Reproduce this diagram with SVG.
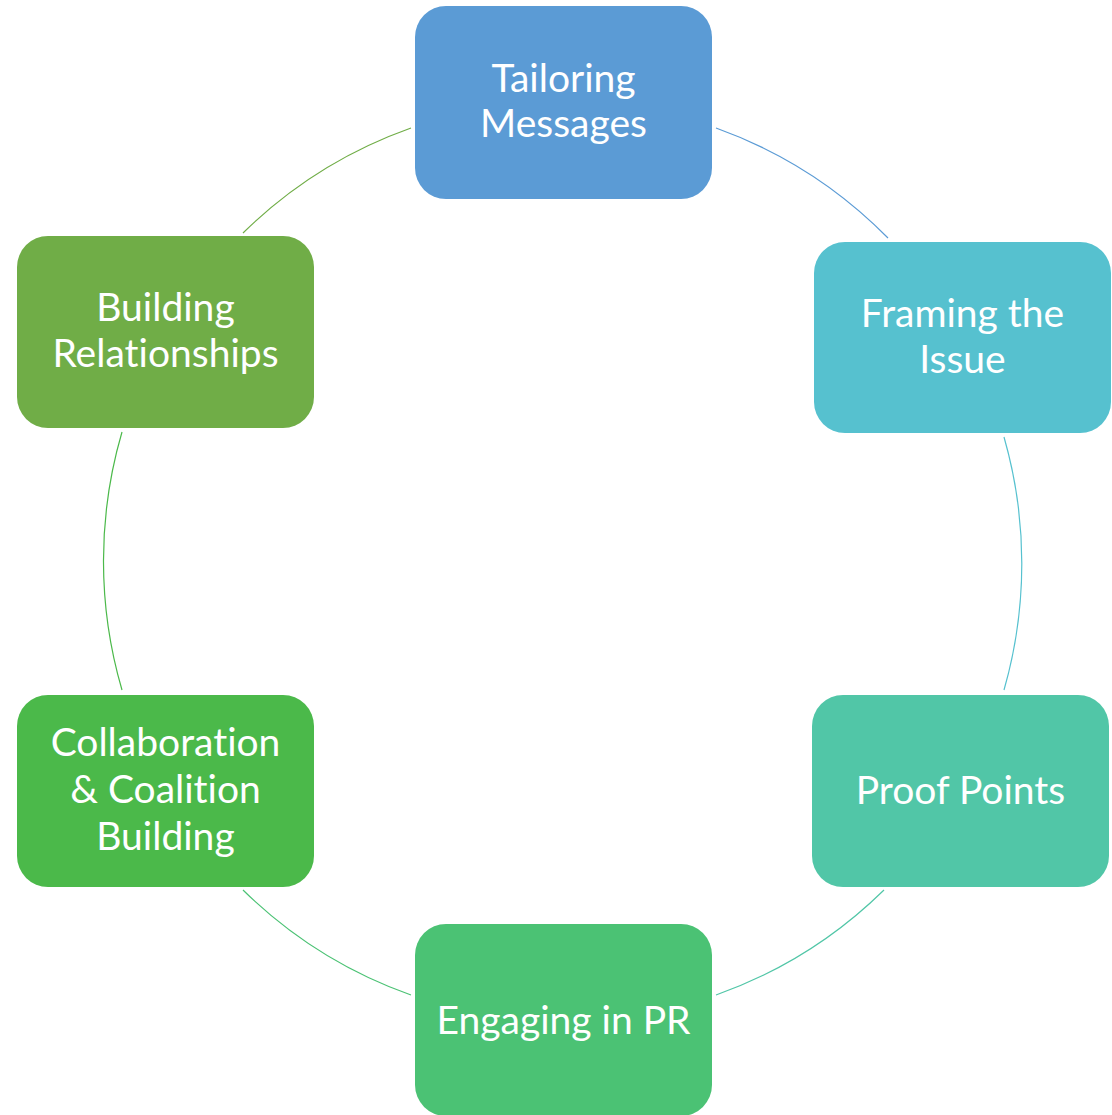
<svg xmlns="http://www.w3.org/2000/svg" width="1112" height="1115" viewBox="0 0 1112 1115">
<style>
.lbl{font-family:Lato,"Open Sans","Liberation Sans",sans-serif;font-size:39px;fill:#ffffff;text-anchor:middle;font-variant-ligatures:none;font-feature-settings:"liga" 0,"dlig" 0}
.arc{fill:none;stroke-width:1.2}
</style>
<rect width="1112" height="1115" fill="#ffffff"/>
<g id="connectors">
<path class="arc" stroke="#5B9BD5" d="M716,128 A458.5,458.5 0 0 1 888,238"/>
<path class="arc" stroke="#56C1CF" d="M1004,437 A458.5,458.5 0 0 1 1004,690"/>
<path class="arc" stroke="#51C6A7" d="M884,890 A458.5,458.5 0 0 1 716,995"/>
<path class="arc" stroke="#4BC274" d="M411,995 A458.5,458.5 0 0 1 243,890"/>
<path class="arc" stroke="#4BB94A" d="M122,690 A458.5,458.5 0 0 1 122,432"/>
<path class="arc" stroke="#70AD47" d="M243,233 A458.5,458.5 0 0 1 411,128"/>
</g>
<g id="node-tailoring">
<rect x="415" y="6" width="297" height="193" rx="31" fill="#5B9BD5"/>
<text class="lbl" x="563.5" y="92">Tailoring</text>
<text class="lbl" x="563.5" y="137">Messages</text>
</g>
<g id="node-framing">
<rect x="814" y="242" width="297" height="191" rx="31" fill="#56C1CF"/>
<text class="lbl" x="962.5" y="327">Framing the</text>
<text class="lbl" x="962.5" y="373">Issue</text>
</g>
<g id="node-proof">
<rect x="812" y="695" width="297" height="192" rx="31" fill="#51C6A7"/>
<text class="lbl" x="960.5" y="804">Proof Points</text>
</g>
<g id="node-engaging">
<rect x="415" y="924" width="297" height="192" rx="31" fill="#4BC274"/>
<text class="lbl" x="563.5" y="1034">Engaging in PR</text>
</g>
<g id="node-collaboration">
<rect x="17" y="695" width="297" height="192" rx="31" fill="#4BB94A"/>
<text class="lbl" x="165.5" y="756">Collaboration</text>
<text class="lbl" x="165.5" y="803">&amp; Coalition</text>
<text class="lbl" x="165.5" y="850">Building</text>
</g>
<g id="node-building">
<rect x="17" y="236" width="297" height="192" rx="31" fill="#70AD47"/>
<text class="lbl" x="165.5" y="321">Building</text>
<text class="lbl" x="165.5" y="367">Relationships</text>
</g>
</svg>
